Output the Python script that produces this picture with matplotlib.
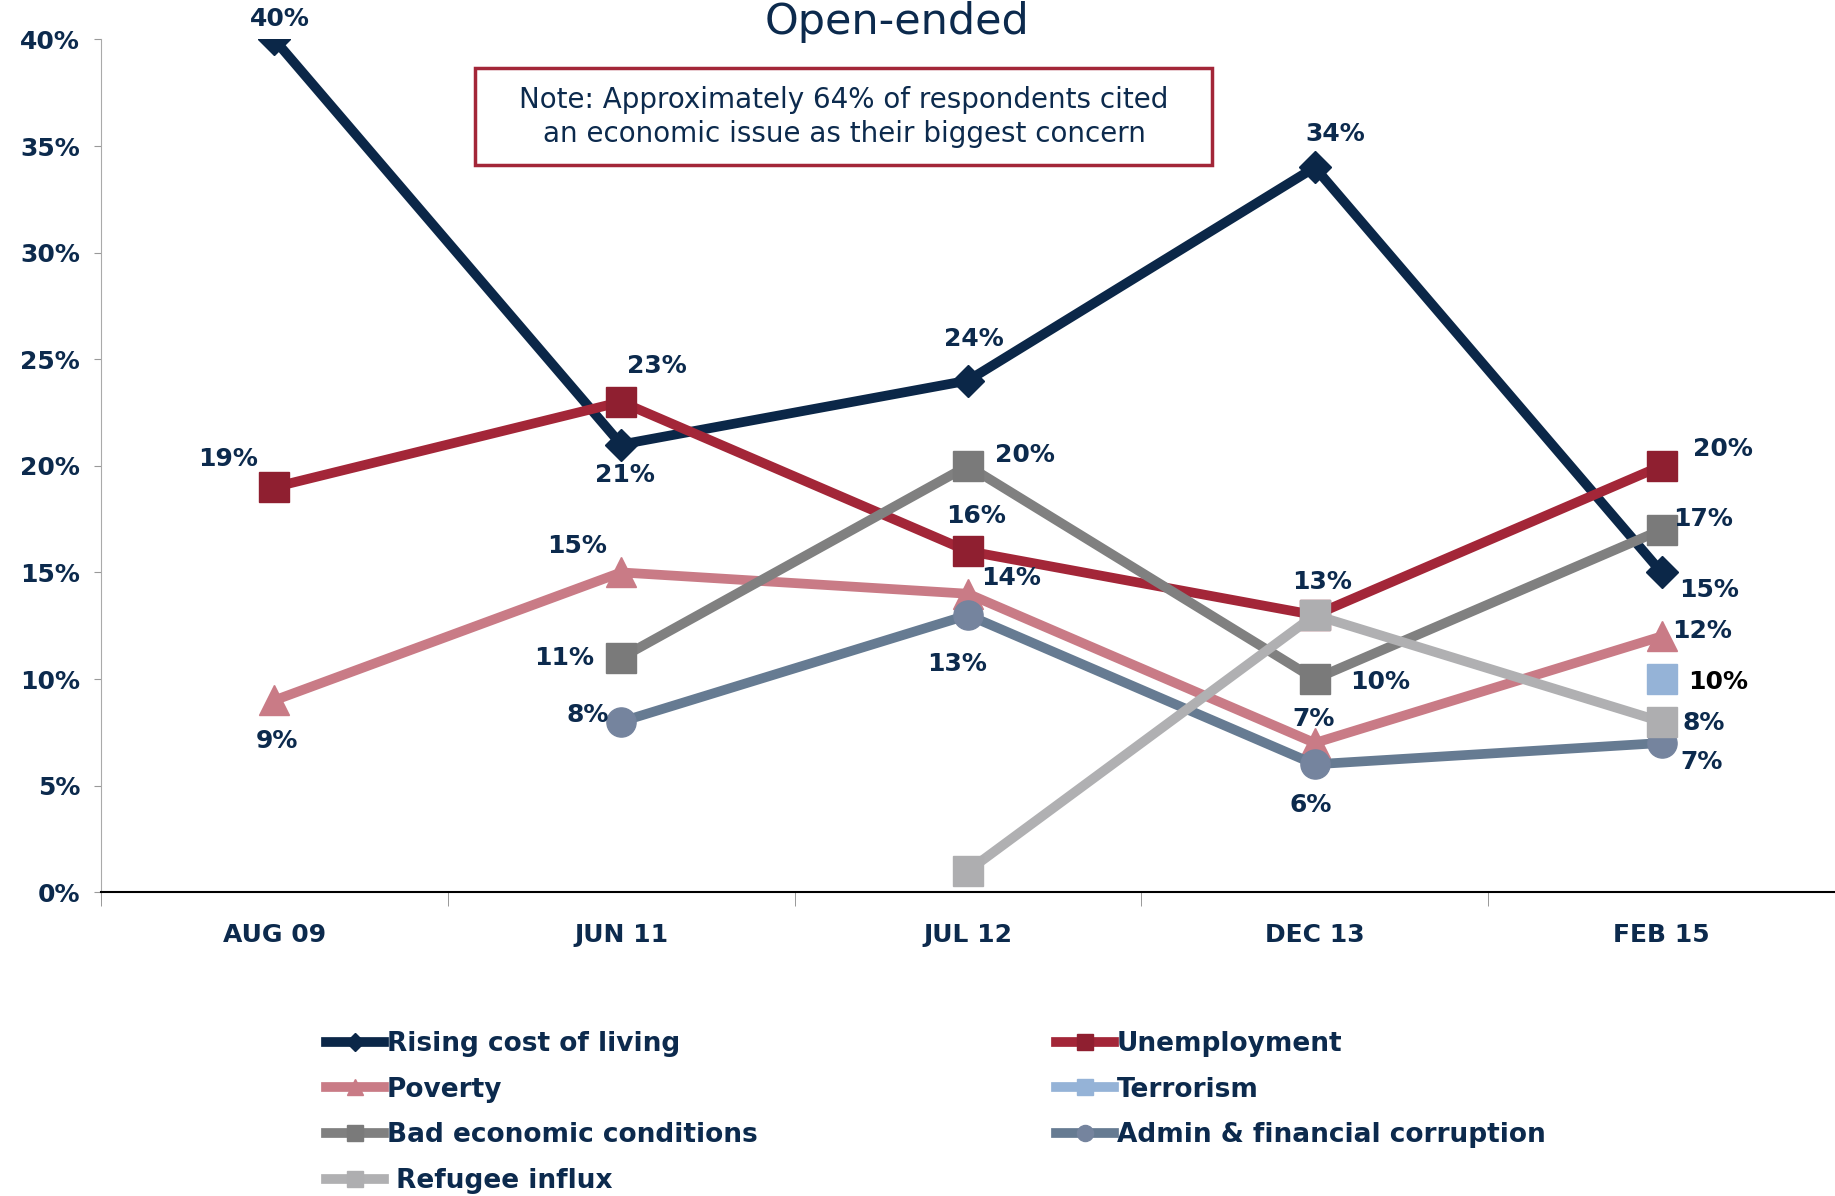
import numpy as np
import matplotlib.pyplot as plt
from matplotlib.patches import Rectangle

# survey waves
waves = ['AUG 09', 'JUN 11', 'JUL 12', 'DEC 13', 'FEB 15']

rising_cost = [40, 21, 24, 34, 15]
unemployment = [19, 23, 16, 13, 20]
poverty = [9, 15, 14, 7, 12]
terrorism = [np.nan, np.nan, np.nan, np.nan, 10]
bad_economy = [np.nan, 11, 20, 10, 17]
corruption = [np.nan, 8, 13, 6, 7]
refugees = [np.nan, np.nan, 1, 13, 8]

navy = '#0b2748'
txt = '#0c2a4d'

fig = plt.figure(figsize=(18.35, 11.96), dpi=100)
ax = fig.add_axes([0.055, 0.254, 0.945, 0.713])
x = np.arange(len(waves))

series = [
    ('Rising cost of living', rising_cost, navy, navy, 'D', 16),
    ('Unemployment', unemployment, '#a32638', '#8f1f30', 's', 21),
    ('Poverty', poverty, '#c97b86', '#c97b86', '^', 21),
    ('Terrorism', terrorism, '#95b3d7', '#95b3d7', 's', 21),
    ('Bad economic conditions', bad_economy, '#808080', '#7a7a7a', 's', 21),
    ('Admin & financial corruption', corruption, '#667b92', '#75849e', 'o', 21),
    ('Refugee influx', refugees, '#b0b0b2', '#aeaeb0', 's', 21),
]

handles = {}
for name, vals, col, mcol, mk, ms in series:
    h, = ax.plot(x, vals, color=col, lw=7, marker=mk, markersize=ms,
                 markerfacecolor=mcol, markeredgecolor=mcol, label=name,
                 solid_joinstyle='miter')
    handles[name] = h

# label offsets in points, per series (None = no label)
offsets = {
    'Rising cost of living': [(4, 15), (3, -22), (4, 30), (15, 24), (34, -13)],
    'Unemployment': [(-33, 20), (26, 26), (6, 25), (5, 24), (44, 12)],
    'Poverty': [(2, -29), (-32, 19), (31, 11), (-1, 17), (29, 4)],
    'Terrorism': [None, None, None, None, (41, -2)],
    'Bad economic conditions': [None, (-41, 0), (41, 8), (47, -2), (30, 8)],
    'Admin & financial corruption': [None, (-24, 5), (-8, -35), (-3, -29), (29, -14)],
    'Refugee influx': [None, None, None, None, (30, -1)],
}
for name, vals, col, mcol, mk, ms in series:
    for i, v in enumerate(vals):
        off = offsets[name][i]
        if off is None or np.isnan(v):
            continue
        c = 'black' if name == 'Terrorism' else txt
        ax.annotate('%d%%' % v, (i, v), xytext=off, textcoords='offset points',
                    ha='center', va='center', fontsize=18, fontweight='bold', color=c)

ax.set_xlim(-0.5, 4.5)
ax.set_ylim(0, 40)
ax.set_yticks(range(0, 41, 5))
ax.set_yticklabels(['%d%%' % t for t in range(0, 41, 5)])
ax.set_xticks(x)
ax.set_xticklabels(waves)
ax.set_xticks(np.arange(-0.5, 5, 1), minor=True)
ax.tick_params(axis='x', which='major', length=0, pad=22, labelsize=18, labelcolor=txt)
ax.tick_params(axis='x', which='minor', length=10, color='#888888', direction='out')
ax.tick_params(axis='y', length=5, color='#999999', pad=10, labelsize=18, labelcolor=txt)
for lab in ax.get_xticklabels() + ax.get_yticklabels():
    lab.set_fontweight('bold')
ax.spines['top'].set_visible(False)
ax.spines['right'].set_visible(False)
ax.spines['left'].set_color('#aaaaaa')
ax.spines['bottom'].set_color('black')
ax.spines['bottom'].set_linewidth(1.5)

fig.text(0.489, 0.999, 'Open-ended', ha='center', va='top', fontsize=31, color=txt)

fig.patches.append(Rectangle((0.259, 1 - 165 / 1196), (1212 - 475) / 1835, 97 / 1196,
                             transform=fig.transFigure, fill=False,
                             edgecolor='#a32638', lw=2.5))
fig.text(0.46, 1 - 117 / 1196,
         'Note: Approximately 64% of respondents cited\nan economic issue as their biggest concern',
         ha='center', va='center', fontsize=20, color=txt, linespacing=1.3)

order = ['Rising cost of living', 'Poverty', 'Bad economic conditions', 'Refugee influx',
         'Unemployment', 'Terrorism', 'Admin & financial corruption']
labels = [(' ' + n if n == 'Refugee influx' else n) for n in order]
leg = fig.legend([handles[n] for n in order], labels, ncol=2, loc='upper left',
                 bbox_to_anchor=(0.172, 0.147), frameon=False, fontsize=19,
                 handlelength=2.2, handletextpad=0.1, columnspacing=11.3,
                 labelspacing=0.75, markerscale=0.55, borderaxespad=0)
for t in leg.get_texts():
    t.set_color(txt)
    t.set_fontweight('bold')

fig.savefig('out.png', dpi=100)
